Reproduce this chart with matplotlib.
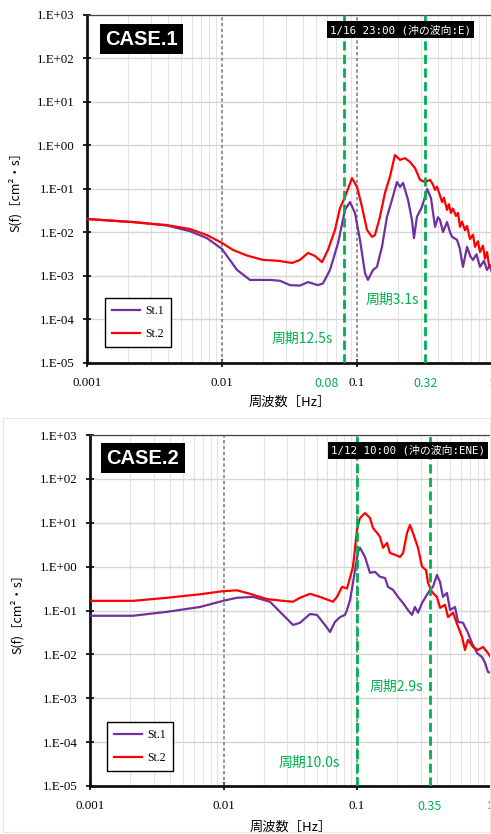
import numpy as np
import matplotlib
matplotlib.use('Agg')
import matplotlib.pyplot as plt
from matplotlib.ticker import NullLocator
from matplotlib.patches import Rectangle

CJK = ['Noto Sans CJK JP', 'DejaVu Sans']
MONO_CJK = ['DejaVu Sans Mono', 'Noto Sans CJK JP']
SERIF = 'Liberation Serif'

# ---------------- data (log10 of frequency [Hz] and log10 of S(f)) ----------------
c1_st1_logf = [-3.000, -2.659, -2.407, -2.237, -2.111, -2.000, -1.889, -1.793, -1.644, -1.570,
               -1.496, -1.422, -1.363, -1.289, -1.252, -1.200, -1.141, -1.089, -1.052, -1.015,
               -0.978, -0.941, -0.919, -0.881, -0.852, -0.815, -0.778, -0.741, -0.704, -0.681,
               -0.659, -0.622, -0.593, -0.578, -0.556, -0.519, -0.496, -0.481, -0.452, -0.422,
               -0.400, -0.385, -0.363, -0.333, -0.310, -0.296, -0.259, -0.240, -0.215, -0.185,
               -0.160, -0.141, -0.115, -0.089, -0.060, -0.037, -0.015, 0.000]
c1_st1_logs = [-1.69, -1.76, -1.84, -1.97, -2.13, -2.38, -2.86, -3.09, -3.09, -3.11,
               -3.21, -3.22, -3.14, -3.21, -3.17, -2.86, -2.25, -1.48, -1.30, -1.55,
               -2.17, -2.93, -3.09, -2.86, -2.79, -2.33, -1.64, -1.25, -0.84, -0.95,
               -0.86, -1.25, -1.71, -2.13, -1.64, -1.41, -1.18, -1.00, -1.21, -1.87,
               -1.65, -1.71, -1.99, -1.76, -2.00, -2.10, -2.17, -2.35, -2.79, -2.33,
               -2.55, -2.63, -2.50, -2.79, -2.65, -2.86, -2.75, -2.93]

c1_st2_logf = [-3.000, -2.659, -2.407, -2.237, -2.111, -2.000, -1.919, -1.815, -1.696, -1.585,
               -1.481, -1.422, -1.363, -1.311, -1.259, -1.215, -1.163, -1.126, -1.089, -1.037,
               -1.000, -0.963, -0.926, -0.889, -0.867, -0.830, -0.793, -0.756, -0.719, -0.681,
               -0.644, -0.607, -0.570, -0.533, -0.496, -0.459, -0.437, -0.422, -0.407, -0.385,
               -0.370, -0.356, -0.333, -0.319, -0.304, -0.289, -0.267, -0.252, -0.237, -0.222,
               -0.200, -0.185, -0.163, -0.141, -0.126, -0.104, -0.089, -0.067, -0.052, -0.037,
               -0.022, 0.000]
c1_st2_logs = [-1.69, -1.76, -1.83, -1.92, -2.06, -2.24, -2.40, -2.53, -2.63, -2.65,
               -2.70, -2.63, -2.47, -2.54, -2.68, -2.40, -1.94, -1.44, -1.18, -0.75,
               -0.95, -1.41, -1.94, -2.10, -2.06, -1.64, -1.09, -0.72, -0.22, -0.33,
               -0.29, -0.38, -0.52, -0.79, -0.84, -0.79, -0.90, -1.02, -0.95, -1.15,
               -1.30, -1.20, -1.48, -1.35, -1.55, -1.45, -1.62, -1.55, -1.87, -1.75,
               -1.95, -1.85, -2.15, -2.05, -2.33, -2.20, -2.45, -2.30, -2.60, -2.45,
               -2.75, -2.82]

c2_st1_logf = [-3.000, -2.678, -2.423, -2.176, -2.004, -1.899, -1.779, -1.652, -1.554, -1.479,
               -1.427, -1.352, -1.300, -1.240, -1.202, -1.165, -1.127, -1.090, -1.075, -1.052,
               -1.030, -0.993, -0.978, -0.940, -0.903, -0.865, -0.828, -0.790, -0.768, -0.730,
               -0.693, -0.655, -0.618, -0.588, -0.566, -0.543, -0.513, -0.476, -0.453, -0.431,
               -0.401, -0.378, -0.356, -0.326, -0.303, -0.266, -0.243, -0.206, -0.169, -0.139,
               -0.101, -0.064, -0.041, -0.019, 0.000]
c2_st1_logs = [-1.12, -1.12, -1.03, -0.92, -0.78, -0.71, -0.69, -0.80, -1.10, -1.33,
               -1.28, -1.08, -1.10, -1.33, -1.49, -1.26, -1.15, -1.10, -0.99, -0.76,
               -0.37, 0.33, 0.43, 0.22, -0.14, -0.12, -0.23, -0.26, -0.46, -0.53,
               -0.69, -0.83, -0.99, -1.10, -0.92, -1.05, -0.83, -0.64, -0.53, -0.46,
               -0.19, -0.35, -0.69, -0.60, -0.99, -0.92, -1.26, -1.28, -1.51, -1.74,
               -1.97, -2.06, -2.19, -2.40, -2.42]

c2_st2_logf = [-3.000, -2.678, -2.423, -2.176, -2.004, -1.899, -1.801, -1.674, -1.554, -1.479,
               -1.427, -1.352, -1.277, -1.180, -1.150, -1.112, -1.075, -1.052, -1.030, -1.000,
               -0.978, -0.940, -0.903, -0.880, -0.850, -0.828, -0.805, -0.775, -0.753, -0.715,
               -0.678, -0.655, -0.625, -0.603, -0.581, -0.543, -0.513, -0.483, -0.468, -0.438,
               -0.401, -0.378, -0.341, -0.318, -0.281, -0.243, -0.213, -0.191, -0.169, -0.131,
               -0.094, -0.056, -0.019, 0.000]
c2_st2_logs = [-0.78, -0.78, -0.71, -0.63, -0.56, -0.54, -0.62, -0.74, -0.78, -0.80,
               -0.71, -0.62, -0.69, -0.80, -0.69, -0.46, -0.50, -0.25, 0.00, 0.84,
               1.11, 1.22, 1.11, 0.88, 0.77, 0.68, 0.43, 0.54, 0.31, 0.27,
               0.22, 0.31, 0.77, 0.95, 0.77, 0.43, 0.00, -0.08, -0.37, -0.58,
               -0.69, -0.94, -0.87, -1.15, -1.05, -1.37, -1.60, -1.90, -1.67, -1.83,
               -1.90, -1.83, -1.97, -2.06]

series_names = ['St.1', 'St.2']
series_colors = ['#7030A0', '#FF0000']
case_titles = ['CASE.1', 'CASE.2']
date_labels = ['1/16 23:00 (沖の波向:E)', '1/12 10:00 (沖の波向:ENE)']
peak_freqs = [[0.08, 0.32], [0.1, 0.35]]
peak_tick_labels = [['0.08', '0.32'], [None, '0.35']]
period_labels = [['周期12.5s', '周期3.1s'], ['周期10.0s', '周期2.9s']]
x_ticks = [0.001, 0.01, 0.1, 1]
x_tick_labels = ['0.001', '0.01', '0.1', '1']
y_exponents = list(range(-5, 4))
y_tick_labels = ['1.E%+03d' % e for e in y_exponents]

GREEN = '#00B050'

W, H = 491, 834
fig = plt.figure(figsize=(W / 100, H / 100), dpi=100)

# faint frame around the lower (second) picture
fig.patches.append(Rectangle((3 / W, 2 / H), 1 - 4 / W, (H - 420) / H, transform=fig.transFigure,
                             fill=False, ec='#e6e6e6', lw=0.8))


def px_axes(l, t, r, b):
    return [l / W, 1 - b / H, (r - l) / W, (b - t) / H]


axes = [fig.add_axes(px_axes(87, 15, 492, 363)), fig.add_axes(px_axes(90, 435, 490.5, 786))]
data = [((c1_st1_logf, c1_st1_logs), (c1_st2_logf, c1_st2_logs)),
        ((c2_st1_logf, c2_st1_logs), (c2_st2_logf, c2_st2_logs))]

# layout params per panel (axes fractions)
case_pos = [(0.1346, 0.931), (0.132, 0.934)]
date_pos = [(0.774, 0.957), (0.794, 0.956)]
period_pos = [[(0.532, 0.069), (0.753, 0.181)], [(0.548, 0.0655), (0.764, 0.282)]]
legend_anchor = [(0.044, 0.046), (0.042, 0.043)]
peak_label_offset = [[-4, 0], [0, 0]]
peak_label_ha = [['right', 'center'], ['center', 'center']]

for i, ax in enumerate(axes):
    ax.set_xscale('log')
    ax.set_yscale('log')
    ax.set_xlim(1e-3, 1)
    ax.set_ylim(1e-5, 1e3)

    for (lf, ls), name, col in zip(data[i], series_names, series_colors):
        ax.plot(np.power(10.0, lf), np.power(10.0, ls), color=col, lw=1.6, zorder=3, label=name)

    # grid
    ax.set_axisbelow(True)
    ax.grid(which='minor', axis='x', color='#e3e3e3', lw=0.8)
    ax.grid(which='major', axis='y', color='#d6d6d6', lw=1.0)
    ax.yaxis.set_minor_locator(NullLocator())
    ax.tick_params(which='minor', length=0)

    for xv in (0.01, 0.1):
        ax.axvline(xv, color='#777777', lw=1.1, ls=(0, (2.2, 1.6)), zorder=2)

    for pf in peak_freqs[i]:
        ax.axvline(pf, color=GREEN, lw=2.0, ls=(0, (3.3, 1.6)), zorder=4)

    ax.set_xticks(x_ticks)
    ax.set_xticklabels(x_tick_labels)
    ax.set_yticks([10.0 ** e for e in y_exponents])
    ax.set_yticklabels(y_tick_labels)
    ax.tick_params(which='major', direction='inout', length=6, width=1.2, labelsize=9.3,
                   colors='black')
    ax.tick_params(axis='y', pad=6)
    ax.tick_params(axis='x', pad=7)
    for lbl in ax.get_xticklabels() + ax.get_yticklabels():
        lbl.set_fontfamily(SERIF)

    for s in ('left', 'bottom'):
        ax.spines[s].set_linewidth(2.0)
        ax.spines[s].set_color('#111111')
    for s in ('top', 'right'):
        ax.spines[s].set_linewidth(0.9)
        ax.spines[s].set_color('#444444')

    # green peak tick labels
    for pf, lab, dx, ha in zip(peak_freqs[i], peak_tick_labels[i], peak_label_offset[i], peak_label_ha[i]):
        if lab is None:
            continue
        ax.annotate(lab, xy=(pf, 0), xycoords=('data', 'axes fraction'),
                    xytext=(dx, -10), textcoords='offset points', ha=ha, va='top',
                    color=GREEN, fontsize=9, family=CJK)

    # period labels
    for (px, py), txt in zip(period_pos[i], period_labels[i]):
        ax.text(px, py, txt, transform=ax.transAxes, ha='center', va='center',
                color=GREEN, fontsize=10, family=CJK, zorder=5)

    # case title box
    ax.text(case_pos[i][0], case_pos[i][1], case_titles[i], transform=ax.transAxes,
            ha='center', va='center', color='white', fontsize=14.5, fontweight='bold',
            family='Liberation Sans', zorder=6,
            bbox=dict(boxstyle='square,pad=0.28', fc='black', ec='none'))

    # date box
    ax.text(date_pos[i][0], date_pos[i][1], date_labels[i], transform=ax.transAxes,
            ha='center', va='center', color='white', fontsize=7.8, family=MONO_CJK, zorder=6,
            bbox=dict(boxstyle='square,pad=0.3', fc='black', ec='none'))

    # axis labels
    ax.text(-0.178 if i == 0 else -0.182, 0.5, 'S(f)［cm²・s］', transform=ax.transAxes,
            rotation=90, ha='center', va='center', fontsize=9, family=CJK)
    ax.text(0.5, -0.112 if i == 0 else -0.117, '周波数［Hz］', transform=ax.transAxes,
            ha='center', va='center', fontsize=9.5, family=CJK)

    leg = ax.legend(loc='lower left', bbox_to_anchor=legend_anchor[i], borderaxespad=0,
                    frameon=True, fancybox=False, edgecolor='black', framealpha=1,
                    prop={'family': SERIF, 'size': 8.5}, handlelength=2.4,
                    handletextpad=0.4, labelspacing=0.9, borderpad=0.6)
    leg.get_frame().set_linewidth(1.0)
    leg.set_zorder(7)

fig.savefig('out.png', dpi=100)
